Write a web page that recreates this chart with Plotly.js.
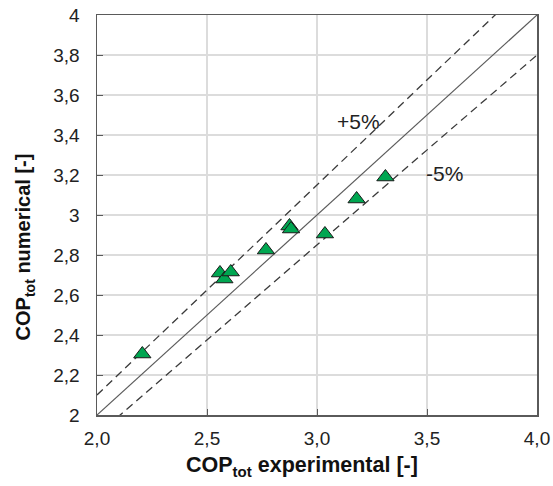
<!DOCTYPE html>
<html>
<head>
<meta charset="utf-8">
<script src="https://cdn.plot.ly/plotly-3.0.1.min.js"></script>
<style>
  html, body { margin: 0; padding: 0; background: #fff; }
  #chart { width: 553px; height: 486px; }
</style>
</head>
<body>
<div id="chart"></div>
<script>
// Measured vs. simulated total COP
const copExperimental = [2.206, 2.559, 2.579, 2.608, 2.768, 2.875, 2.882, 3.036, 3.180, 3.311];
const copNumerical    = [2.305, 2.710, 2.680, 2.715, 2.825, 2.945, 2.930, 2.905, 3.080, 3.190];

// Reference lines: perfect agreement and ±5 % band
const refX = [2.0, 4.0];
const bandFactors = [1.05, 0.95];
const bandLabels = ['+5%', '-5%'];

const xTickVals = [2.0, 2.5, 3.0, 3.5, 4.0];
const xTickText = ['2,0', '2,5', '3,0', '3,5', '4,0'];
const yTickVals = [2.0, 2.2, 2.4, 2.6, 2.8, 3.0, 3.2, 3.4, 3.6, 3.8, 4.0];
const yTickText = ['2', '2,2', '2,4', '2,6', '2,8', '3', '3,2', '3,4', '3,6', '3,8', '4'];

const FONT = 'Liberation Sans, Arial, sans-serif';

const traces = [
  {
    x: refX, y: refX, mode: 'lines', hoverinfo: 'skip',
    line: { color: '#5a5a5a', width: 1.2 }
  },
  ...bandFactors.map(f => ({
    x: refX, y: refX.map(v => v * f), mode: 'lines', hoverinfo: 'skip',
    line: { color: '#3a3a3a', width: 1.3, dash: '8px,5px' }
  })),
  {
    x: copExperimental, y: copNumerical, mode: 'markers',
    marker: { symbol: 'triangle-up', size: 15, color: '#00a651',
              line: { color: '#1a1a1a', width: 1 } }
  }
];

const axisCommon = {
  showline: true, mirror: true, linecolor: '#5a5a5a', linewidth: 1.5,
  showgrid: true, gridcolor: '#dcdcdc', gridwidth: 1.2,
  zeroline: false, ticks: 'inside', ticklen: 6, tickcolor: '#5a5a5a',
  tickfont: { family: FONT, size: 19, color: '#222' }
};

const layout = {
  width: 553, height: 486,
  margin: { l: 97, r: 16, t: 15, b: 71 },
  paper_bgcolor: '#fff', plot_bgcolor: '#fff',
  showlegend: false,
  xaxis: Object.assign({}, axisCommon, {
    range: [2, 4], tickvals: xTickVals, ticktext: xTickText,
    ticklabelstandoff: 6
  }),
  yaxis: Object.assign({}, axisCommon, {
    range: [2, 4], tickvals: yTickVals, ticktext: yTickText,
    ticklabelstandoff: 12
  }),
  annotations: [
    {
      xref: 'paper', yref: 'paper', x: 0.467, y: -0.13,
      xanchor: 'center', yanchor: 'middle', showarrow: false,
      text: '<b>COP<sub>tot</sub> experimental [-]</b>',
      font: { family: FONT, size: 21.5, color: '#111' }
    },
    {
      xref: 'paper', yref: 'paper', x: -0.165, y: 0.42,
      xanchor: 'center', yanchor: 'middle', showarrow: false, textangle: -90,
      text: '<b>COP<sub>tot</sub> numerical [-]</b>',
      font: { family: FONT, size: 20, color: '#111' }
    },
    {
      x: 3.19, y: 3.47, showarrow: false, xanchor: 'center', yanchor: 'middle',
      text: bandLabels[0], font: { family: FONT, size: 21, color: '#222' }
    },
    {
      x: 3.58, y: 3.21, showarrow: false, xanchor: 'center', yanchor: 'middle',
      text: bandLabels[1], font: { family: FONT, size: 21, color: '#222' }
    }
  ]
};

Plotly.newPlot('chart', traces, layout, { staticPlot: true, displayModeBar: false });
</script>
</body>
</html>
